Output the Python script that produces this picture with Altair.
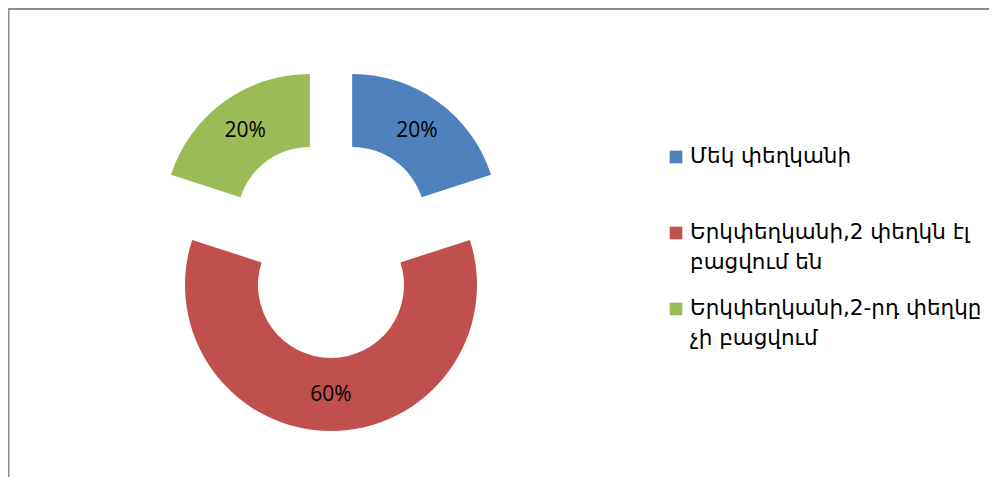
import math
import altair as alt
import pandas as pd

categories = ["Մեկ փեղկանի", "Երկփեղկանի,2 փեղկն էլ բացվում են", "Երկփեղկանի,2-րդ փեղկը չի բացվում"]
legend_lines = ["Մեկ փեղկանի", "Երկփեղկանի,2 փեղկն էլ\nբացվում են", "Երկփեղկանի,2-րդ փեղկը\nչի բացվում"]
values = [20, 60, 20]
labels = ["20%", "60%", "20%"]
colors = ["#4F81BD", "#C0504D", "#9BBB59"]

W, H = 981, 469
CX, CY = 323, 241
R_OUT, R_IN = 146, 73
EXPLODE = 36
LABEL_R = 110

total = sum(values)
df = pd.DataFrame({"cat": categories, "value": values, "label": labels,
                   "order": list(range(len(values)))})

base = alt.Chart(df).transform_window(
    v1="sum(value)", sort=[alt.SortField("order")], frame=[None, 0]
).transform_calculate(
    v0="datum.v1 - datum.value", mid="datum.v1 - datum.value/2"
)

theta_scale = alt.Scale(domain=[0, total], range=[0, 2 * math.pi])

layers = []
cum = 0
for i, (cat, v) in enumerate(zip(categories, values)):
    mid = (cum + v / 2) / total * 2 * math.pi
    cum += v
    dx = EXPLODE * math.sin(mid)
    dy = -EXPLODE * math.cos(mid)
    sub = base.transform_filter(alt.datum.order == i)
    arc = sub.mark_arc(radius=R_OUT, radius2=R_IN, xOffset=dx, yOffset=dy,
                       color=colors[i], stroke=None).encode(
        x=alt.value(CX), y=alt.value(CY),
        theta=alt.Theta("v0:Q", scale=theta_scale), theta2="v1:Q")
    txt = sub.mark_text(font="Open Sans", fontSize=21, color="black",
                        xOffset=dx, yOffset=dy, baseline="middle", align="center").encode(
        x=alt.value(CX), y=alt.value(CY),
        theta=alt.Theta("mid:Q", scale=theta_scale), radius=alt.value(LABEL_R),
        text="label:N")
    layers += [arc, txt]

leg_df = pd.DataFrame({"line": legend_lines, "row": list(range(len(categories))), "cat": categories})
leg_y = alt.Y("row:Q", scale=alt.Scale(domain=[0, 2], range=[149, 301]), axis=None)
leg_sq = alt.Chart(leg_df).mark_square(size=160, opacity=1, filled=True).encode(
    x=alt.value(668), y=leg_y,
    color=alt.Color("cat:N", scale=alt.Scale(domain=categories, range=colors), legend=None))
leg_txt = alt.Chart(leg_df).mark_text(align="left", baseline="middle", font="DejaVu Sans",
                                      fontSize=21.5, lineBreak="\n", lineHeight=30,
                                      color="black").encode(
    x=alt.value(682), y=leg_y, text="line:N")

border = alt.Chart(pd.DataFrame({"a": [0]})).mark_rule(color="#8c8c8c", strokeWidth=2)
top_rule = border.encode(x=alt.value(0), x2=alt.value(W), y=alt.value(1))
left_rule = border.encode(x=alt.value(0.5), y=alt.value(0), y2=alt.value(H))

chart = alt.layer(*layers, leg_sq, leg_txt, top_rule, left_rule).properties(
    width=W, height=H, padding=0, autosize=alt.AutoSizeParams(type="none"),
    background="white"
).configure_view(stroke=None)

chart.save("out.html", embed_options={"renderer": "svg", "actions": False})
